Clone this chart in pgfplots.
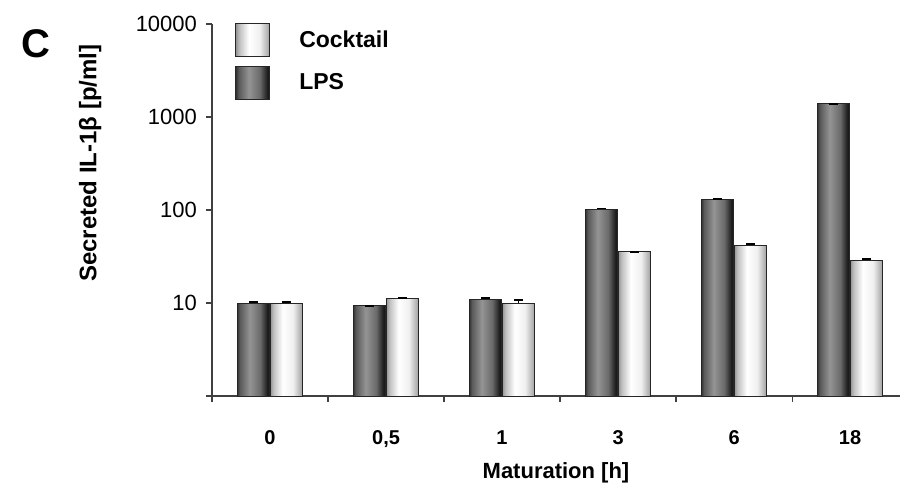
\documentclass[border=0pt]{standalone}
\usepackage{fontspec}
\setmainfont{Liberation Sans}
\usepackage{pgfplots}
\pgfplotsset{compat=1.18}
\usepackage{pgfplotstable}

\pgfdeclarehorizontalshading{lpsshade}{100bp}{color(0bp)=(black!80); color(25bp)=(black!80); color(29bp)=(black!65); color(44bp)=(black!42); color(60bp)=(black!58); color(71bp)=(black!88); color(75bp)=(black!92); color(100bp)=(black!92)}
\pgfdeclarehorizontalshading{ckshade}{100bp}{color(0bp)=(black!42); color(25bp)=(black!42); color(30bp)=(black!25); color(44bp)=(white); color(60bp)=(black!6); color(72bp)=(black!32); color(75bp)=(black!40); color(100bp)=(black!40)}

\pgfplotstableread{
x lps lpserr ck ckerr
0 10 0.3 10 0.3
1 9.3 0 11.3 0
2 11.0 0.3 10.0 0.7
3 102 2 35.6 0
4 131 0 42 1
5 1380 0 29 0.8
}\datatable

\pgfplotsset{
  errstyle/.style={error bars/.cd, y dir=plus, y explicit, error bar style={black, line width=0.6pt},
    error mark options={rotate=90, black, mark size=2.2pt, line width=0.9pt}},
  lpsbar/.style={bar shift=-8.25pt, draw=black!85, line width=0.5pt, shade, shading=lpsshade, forget plot},
  ckbar/.style={bar shift=8.25pt, draw=black!85, line width=0.5pt, shade, shading=ckshade, forget plot},
}

\begin{document}
\begin{tikzpicture}
\begin{axis}[
  at={(106pt,46.5pt)}, anchor=south west,
  width=344pt, height=186pt, scale only axis,
  xmin=-0.5, xmax=5.43, ymin=1, ymax=10000, ymode=log,
  axis x line*=bottom, axis y line*=left,
  axis line style={-, black!75, line width=0.6pt},
  ytick={1,10,100,1000,10000}, yticklabels={,10,100,1000,10000},
  yminorticks=false,
  xtick={0,...,5}, xticklabels={0,{0,5},1,3,6,18},
  minor xtick={-0.5,0.5,1.5,2.5,3.5,4.5},
  tick align=outside, major tick length=3pt, minor tick length=3pt,
  major x tick style={draw=none},
  minor x tick style={black!75, line width=0.6pt},
  y tick style={black!75, line width=0.6pt},
  yticklabel style={font=\fontsize{11}{13}\selectfont, xshift=-1pt},
  xticklabel style={font=\fontsize{10}{12}\selectfont\bfseries, text height=7.5pt, text depth=2pt, yshift=-10pt},
  xlabel={Maturation [h]},
  ylabel={Secreted IL-1β [p/ml]},
  every axis y label/.style={at={(axis description cs:-0.177,0.626)}, anchor=center, rotate=90, font=\fontsize{12}{14}\selectfont\bfseries},
  every axis x label/.style={at={(axis description cs:0.5,0)}, anchor=center, yshift=-38.5pt, font=\fontsize{11}{13}\selectfont\bfseries},
  legend style={at={(axis description cs:0,1)}, anchor=north west, xshift=11.5pt, yshift=0.5pt,
    draw=none, fill=none, font=\fontsize{11.5}{13}\selectfont\bfseries, row sep=4.5pt,
    inner sep=0pt, nodes={inner sep=0pt, anchor=west}},
  legend cell align=left,
  ybar, bar width=16.25pt,
]
\pgfplotsinvokeforeach{0,...,5}{
  \addplot[lpsbar, restrict expr to domain={\coordindex}{#1:#1}, errstyle]
    table[x=x, y=lps, y error=lpserr]{\datatable};
  \addplot[ckbar, restrict expr to domain={\coordindex}{#1:#1}, errstyle]
    table[x=x, y=ck, y error=ckerr]{\datatable};
}
\addlegendimage{legend image code/.code={\path[draw=black!85, line width=0.5pt, shade, shading=ckshade] (0pt,-8.25pt) rectangle (17pt,8.25pt); \path (31.5pt,0pt);}}
\addlegendentry{Cocktail}
\addlegendimage{legend image code/.code={\path[draw=black!85, line width=0.5pt, shade, shading=lpsshade] (0pt,-8.25pt) rectangle (17pt,8.25pt); \path (31.5pt,0pt);}}
\addlegendentry{LPS}
\end{axis}
\node[font=\fontsize{20}{20}\selectfont\bfseries] at (18pt,222.5pt) {C};
\pgfresetboundingbox
\path (0pt,0pt) rectangle (452pt,244.5pt);
\end{tikzpicture}
\end{document}
